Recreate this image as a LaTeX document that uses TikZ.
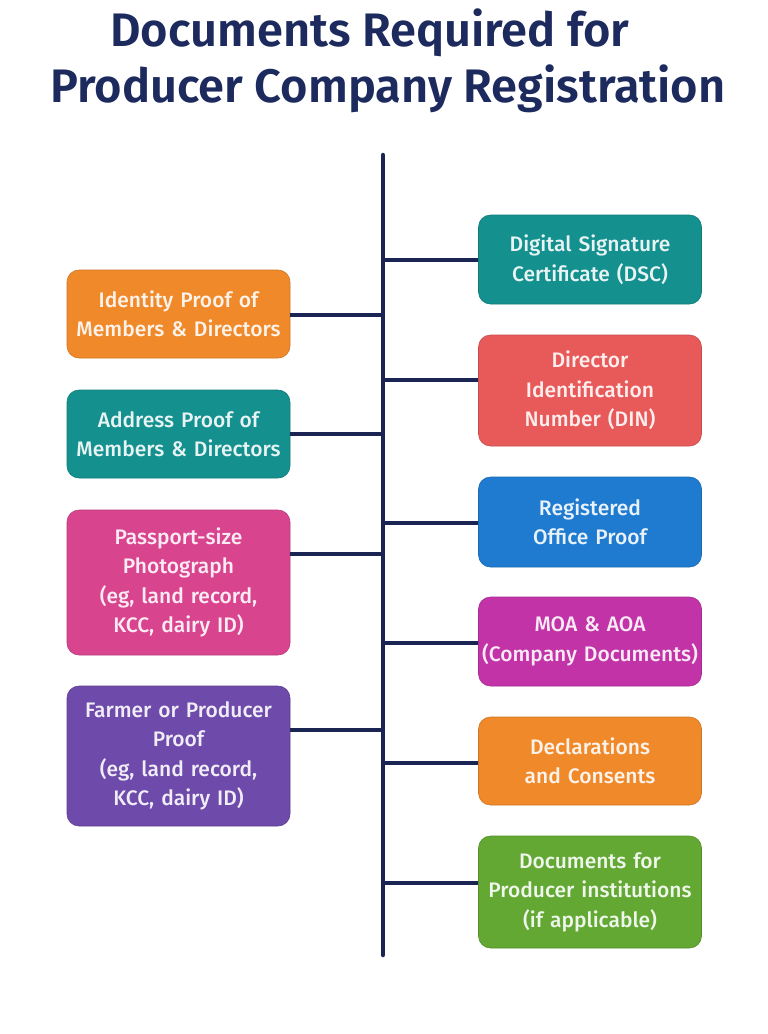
\documentclass[tikz,border=0pt]{standalone}
\usepackage{fontspec}
\setmainfont{Fira Sans}[BoldFont={Fira Sans SemiBold}]
\newfontfamily\boxfont{Fira Sans Medium}
\usetikzlibrary{calc}
\definecolor{SpineClr}{HTML}{1B2553}
\definecolor{TitleClr}{HTML}{1C2A5E}
\definecolor{OrangeClr}{HTML}{F0892A}
\definecolor{TealClr}{HTML}{14908F}
\definecolor{PinkClr}{HTML}{D9448F}
\definecolor{PurpleClr}{HTML}{6E4AAA}
\definecolor{RedClr}{HTML}{E85A5A}
\definecolor{BlueClr}{HTML}{1E7BD0}
\definecolor{MagentaClr}{HTML}{C233A8}
\definecolor{GreenClr}{HTML}{62A832}

\tikzset{
  docbox/.style={rounded corners=12pt, fill=#1, draw=#1!85!black, line width=0.6pt,
    minimum width=223pt, text width=222pt, align=center, inner sep=0pt,
    text=white!90!#1, font=\boxfont\fontsize{21}{29.5}\selectfont},
  branch/.style={draw=SpineClr, line width=4.5pt},
  titletext/.style={text=TitleClr, font=\bfseries\fontsize{47}{54}\selectfont}
}

\begin{document}
\begin{tikzpicture}[x=1pt,y=-1pt]
\useasboundingbox (0,0) rectangle (768,1034);

% title
\node[titletext] (t1) at (370,33) {Documents Required for};
\node[titletext] (t2) at (388,89) {Producer Company Registration};

% spine
\coordinate (top) at (383,155);
\coordinate (bot) at (383,955);
\draw[branch, line cap=round] (top) -- (bot);

% left column
\node[docbox=OrangeClr, minimum height=88pt] (idp) at (178.5,314) {Identity Proof of\\Members \& Directors};
\node[docbox=TealClr, minimum height=88pt] (adp) at (178.5,434) {Address Proof of\\Members \& Directors};
\node[docbox=PinkClr, minimum height=145pt] (pho) at (178.5,582.5) {Passport-size\\Photograph\\(eg, land record,\\KCC, dairy ID)};
\node[docbox=PurpleClr, minimum height=140pt] (far) at (178.5,756) {Farmer or Producer\\Proof\\(eg, land record,\\KCC, dairy ID)};

% right column
\node[docbox=TealClr, minimum height=89pt] (dsc) at (590,259.5) {Digital Signature\\Certificate (DSC)};
\node[docbox=RedClr, minimum height=111pt] (din) at (590,390.5) {Director\\Identification\\Number (DIN)};
\node[docbox=BlueClr, minimum height=90pt] (rop) at (590,522) {Registered\\Office Proof};
\node[docbox=MagentaClr, minimum height=89pt] (moa) at (590,641.5) {MOA \& AOA\\(Company Documents)};
\node[docbox=OrangeClr, minimum height=88pt] (dec) at (590,761) {Declarations\\and Consents};
\node[docbox=GreenClr, minimum height=112pt] (pin) at (590,892) {Documents for\\Producer institutions\\(if applicable)};

% branch points on the spine
\coordinate (sidp) at (383,315);
\coordinate (sadp) at (383,434);
\coordinate (spho) at (383,554);
\coordinate (sfar) at (383,730);
\coordinate (sdsc) at (383,260);
\coordinate (sdin) at (383,380);
\coordinate (srop) at (383,523);
\coordinate (smoa) at (383,643);
\coordinate (sdec) at (383,763);
\coordinate (spin) at (383,883);

\foreach \b in {idp,adp,pho,far}
  \draw[branch] (\b.east |- s\b) -- (s\b);
\foreach \b in {dsc,din,rop,moa,dec,pin}
  \draw[branch] (\b.west |- s\b) -- (s\b);

\end{tikzpicture}
\end{document}
